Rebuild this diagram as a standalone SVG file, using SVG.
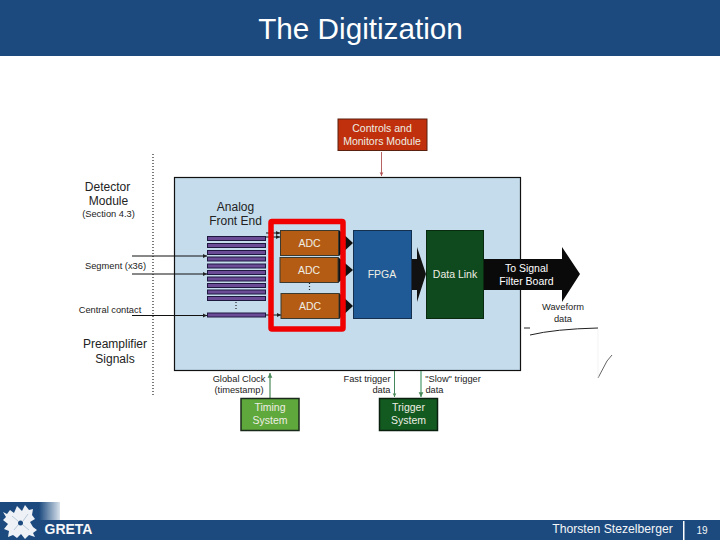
<svg xmlns="http://www.w3.org/2000/svg" width="720" height="540" viewBox="0 0 720 540">
<style>
text{font-family:"Liberation Sans",Arial,sans-serif;text-anchor:middle}
.lab{font-size:9.300px;fill:#222}
.big{font-size:12px;fill:#222}
.w{font-size:10.500px;fill:#eeeee4}
.adc{fill:#b55c14;stroke:#3a3a30;stroke-width:1}
.bar{fill:#6b4a96;stroke:#1e1840;stroke-width:1}
.sig{stroke:#111;stroke-width:1;fill:none}
.dots{stroke:#222;stroke-width:1.200;stroke-dasharray:1 2;fill:none}
</style>
<defs>
<linearGradient id="fade" x1="0" x2="1" y1="0" y2="0"><stop offset="0" stop-color="#1c4a7e"/><stop offset=".65" stop-color="#1c4a7e"/><stop offset="1" stop-color="#d8e2ec"/></linearGradient>
<marker id="ah" markerWidth="5" markerHeight="5" refX="4" refY="2.500" orient="auto"><path d="M0 .5L4 2.500L0 4.500z" fill="#222"/></marker>
<marker id="ag" markerWidth="5" markerHeight="5" refX="4" refY="2.500" orient="auto"><path d="M0 .5L4 2.500L0 4.500z" fill="#4a8a5a"/></marker>
<marker id="ar" markerWidth="5" markerHeight="5" refX="4" refY="2.500" orient="auto"><path d="M0 .5L4 2.500L0 4.500z" fill="#b05050"/></marker>
</defs>
<rect width="720" height="540" fill="#fff"/>
<rect id="title-bar" width="720" height="56" fill="#1c4a7e"/>
<text x="360.500" y="39" font-size="29.700" style="fill:#fff">The Digitization</text>

<g id="footer">
<rect x="0" y="502" width="60" height="18" fill="url(#fade)"/>
<rect x="0" y="520" width="720" height="20" fill="#1c4a7e"/>
<path d="M3 512L7 514L10 510L14 513L17 506L22 511L25 505L29 510L33 509L32 515L35 519L30 522L33 527L37 530L33 533L35 537L29 535L25 539L21 534L17 538L13 535L8 537L9 531L4 529L8 524L3 520L6 517z" fill="#eef2f6"/>
<path d="M12 516L18 521M28 514L23 521M14 530L18 525M29 530L23 525" stroke="#b8c8d8" stroke-width="1" fill="none"/>
<circle cx="20.500" cy="523" r="2.500" fill="#1c4a7e"/>
<text x="68.500" y="534" font-size="14" font-weight="bold" style="fill:#f4f6f8">GRETA</text>
<text x="612.500" y="533" font-size="12.200" style="fill:#f4f6f8">Thorsten Stezelberger</text>
<rect x="683" y="521" width="1.500" height="19" fill="#fff"/>
<text x="702" y="534" font-size="10" style="fill:#f4f6f8">19</text>
</g>

<g id="module-labels">
<path class="dots" d="M153 154V395"/>
<text class="big" x="107.500" y="191">Detector</text>
<text class="big" x="108.500" y="205">Module</text>
<text class="lab" x="108.500" y="217">(Section 4.3)</text>
<text class="lab" x="115.500" y="269">Segment (x36)</text>
<text class="lab" x="110" y="313">Central contact</text>
<text class="big" x="115" y="348">Preamplifier</text>
<text class="big" x="115" y="363">Signals</text>
</g>

<rect id="main-board" x="174.500" y="177.500" width="346" height="193" fill="#c5dcec" stroke="#111" stroke-width="1.200"/>

<g id="connectors">
<path d="M339 230L353 243L339 256z" fill="#111"/>
<path d="M338 257L353 270L338 283z" fill="#111"/>
<path d="M339 293L353 306L339 319z" fill="#111"/>
<path d="M411 259H417V247L426 274L417 302V290H411z" fill="#111"/>
<path d="M484 259H562V247L580 274L562 302V290H484z" fill="#0a0a0a"/>
<path d="M266 233H280" class="sig" marker-end="url(#ah)"/>
<path d="M266 237H280" class="sig" marker-end="url(#ah)"/>
<path d="M266 315H281" class="sig" marker-end="url(#ah)"/>
<path d="M132 256H207" class="sig" marker-end="url(#ah)"/>
<path d="M132 274H207" class="sig" marker-end="url(#ah)"/>
<path d="M132 315.500H207" class="sig" marker-end="url(#ah)"/>
<path d="M381.500 152V176" stroke="#b05050" stroke-width=".9" marker-end="url(#ar)" fill="none"/>
<path d="M270 398V373" stroke="#4a8a5a" stroke-width="1.200" marker-end="url(#ag)" fill="none"/>
<path d="M394.500 371V397" stroke="#2f7a4a" stroke-width=".9" marker-end="url(#ag)" fill="none"/>
<path d="M421 371V397" stroke="#4a9a6a" stroke-width="1.200" marker-end="url(#ag)" fill="none"/>
<path class="dots" d="M236 302V311"/>
<path class="dots" d="M309.500 283V292"/>
</g>

<g id="afe">
<text class="big" x="235.500" y="211">Analog</text>
<text class="big" x="235.500" y="225">Front End</text>
<rect class="bar" x="207.500" y="236.500" width="58" height="4"/>
<rect class="bar" x="207.500" y="243.500" width="58" height="4"/>
<rect class="bar" x="207.500" y="250.500" width="58" height="4"/>
<rect class="bar" x="207.500" y="257" width="58" height="4"/>
<rect class="bar" x="207.500" y="264" width="58" height="4"/>
<rect class="bar" x="207.500" y="270.500" width="58" height="4"/>
<rect class="bar" x="207.500" y="277" width="58" height="4"/>
<rect class="bar" x="207.500" y="283.500" width="58" height="4"/>
<rect class="bar" x="207.500" y="290" width="58" height="4"/>
<rect class="bar" x="207.500" y="296.500" width="58" height="4"/>
<rect class="bar" x="207.500" y="313" width="58" height="4"/>
</g>

<g id="adc1"><rect class="adc" x="280.500" y="230.500" width="58" height="25"/><text class="w" x="309.500" y="247">ADC</text></g>
<g id="adc2"><rect class="adc" x="280" y="257.500" width="58" height="25"/><text class="w" x="309" y="274">ADC</text></g>
<g id="adc3"><rect class="adc" x="281" y="293.500" width="58" height="25"/><text class="w" x="310" y="310">ADC</text></g>
<rect id="highlight" x="271" y="221.500" width="72" height="107.500" rx="1" fill="none" stroke="#f00000" stroke-width="5.500"/>

<g id="fpga"><rect x="353.500" y="230.500" width="58" height="88" fill="#1f5a96" stroke="#14304e"/><text class="w" x="382" y="278">FPGA</text></g>
<g id="datalink"><rect x="426.500" y="230.500" width="57" height="88" fill="#0f4a1e" stroke="#0a2a10"/><text class="w" x="455" y="278">Data Link</text></g>
<g id="signal-label">
<text x="526.500" y="272" font-size="10.500" style="fill:#fff">To Signal</text>
<text x="526.500" y="284.500" font-size="10.500" style="fill:#fff">Filter Board</text>
</g>
<g id="controls"><rect x="338" y="119" width="89" height="31.500" fill="#c0300c" stroke="#5a2010"/><text class="w" x="382" y="132">Controls and</text><text class="w" x="382" y="145">Monitors Module</text></g>
<g id="timing"><rect x="241" y="398.500" width="58" height="32" fill="#5fa83c" stroke="#1a2a1a" stroke-width="1.500"/><text class="w" x="270" y="411">Timing</text><text class="w" x="270" y="424">System</text></g>
<g id="trigger"><rect x="379.500" y="398.500" width="58" height="32" fill="#125a20" stroke="#0a200e" stroke-width="1.500"/><text class="w" x="408.500" y="411">Trigger</text><text class="w" x="408.500" y="424">System</text></g>

<g id="bottom-labels">
<text class="lab" x="239" y="382">Global Clock</text>
<text class="lab" x="239" y="393">(timestamp)</text>
<text class="lab" x="367" y="382">Fast trigger</text>
<text class="lab" x="381.500" y="393">data</text>
<text class="lab" x="453" y="382">"Slow" trigger</text>
<text class="lab" x="434.500" y="393">data</text>
</g>

<g id="waveform">
<text class="lab" x="563" y="310">Waveform</text>
<text class="lab" x="563" y="322">data</text>
<path d="M524 328H530" stroke="#222" fill="none"/>
<path d="M530 335Q555 329 598 328" stroke="#222" stroke-width="1" fill="none"/>
<path d="M598 378L607 361L612 355" stroke="#222" stroke-width=".7" fill="none"/>
<path d="M598 329V378" stroke="#eeeeee" stroke-width=".7" fill="none"/>
</g>
</svg>
